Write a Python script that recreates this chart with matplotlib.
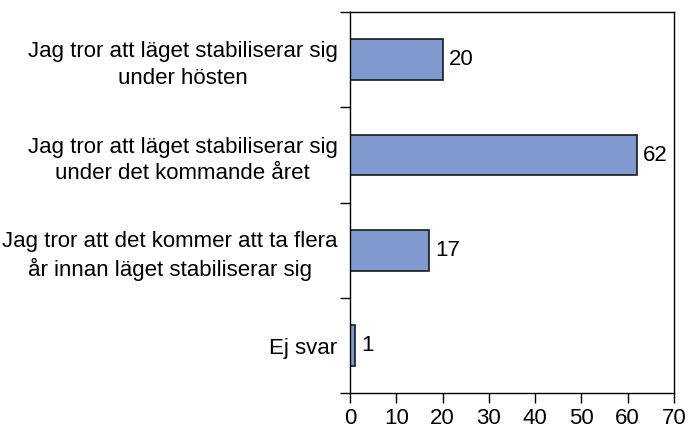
import numpy as np
import matplotlib.pyplot as plt

plt.rcParams['font.family'] = ['Liberation Sans', 'DejaVu Sans']

categories = [
    "Jag tror att läget stabiliserar sig\nunder hösten",
    "Jag tror att läget stabiliserar sig\nunder det kommande året",
    "Jag tror att det kommer att ta flera\når innan läget stabiliserar sig",
    "Ej svar",
]
values = [20, 62, 17, 1]

fig = plt.figure(figsize=(6.89, 4.33), dpi=100)
ax = fig.add_axes([0.508, 0.092, 0.470, 0.880])

y = np.arange(len(categories))
ax.barh(y, values, height=0.43, color='#7f9acf', edgecolor='#1a1a1a', linewidth=1.2)
for yi, v in zip(y, values):
    ax.text(v + 1.4, yi, str(v), va='center', ha='left', fontsize=16)

ax.set_xlim(0, 70)
ax.set_ylim(len(categories) - 0.5, -0.5)
ax.set_xticks(range(0, 71, 10))
ax.set_yticks(y)
ax.set_yticklabels(categories, fontsize=16, multialignment='center', linespacing=1.35)
ax.set_yticks(np.arange(-0.5, len(categories)), minor=True)
ax.tick_params(axis='y', which='major', length=0, pad=9)
ax.tick_params(axis='y', which='minor', length=7, width=1, direction='out')
ax.tick_params(axis='x', length=7, width=1, direction='out', labelsize=16, pad=4)
for s in ax.spines.values():
    s.set_linewidth(1)
    s.set_color('black')

plt.savefig('out.png', dpi=100)
